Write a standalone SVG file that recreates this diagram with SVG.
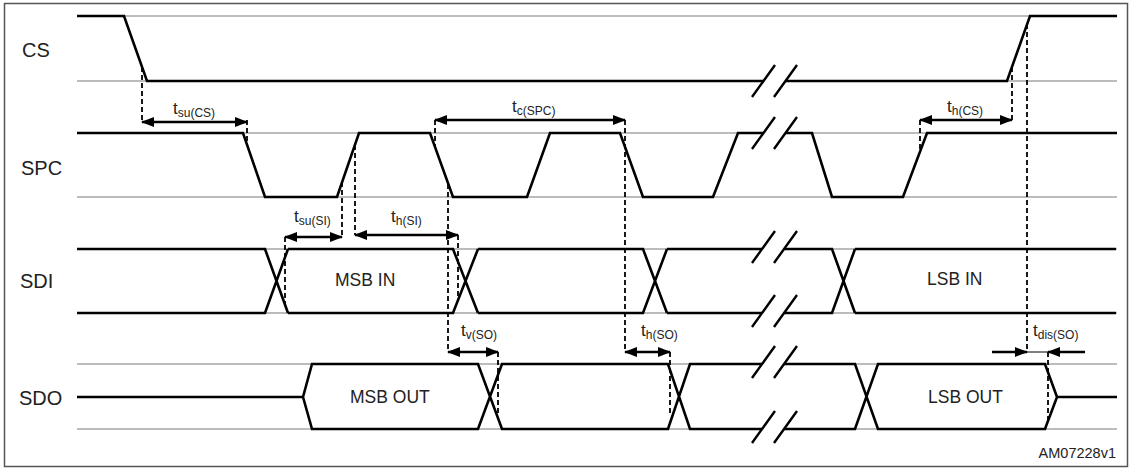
<svg xmlns="http://www.w3.org/2000/svg" width="1130" height="470" viewBox="0 0 1130 470">
<style>
.rail{stroke:#a6a6a6;stroke-width:1.3;fill:none}
.sig{stroke:#000;stroke-width:2.6;fill:none;stroke-linejoin:miter}
.slash{stroke:#000;stroke-width:2.4;fill:none}
.dash{stroke:#000;stroke-width:1.8;stroke-dasharray:5 3;fill:none}
.arr{stroke:#000;stroke-width:2.4;fill:none}
.lbl{font-family:"Liberation Sans",Arial,sans-serif;font-size:20px;fill:#222}
.dat{font-family:"Liberation Sans",Arial,sans-serif;font-size:17.5px;fill:#222}
.t{font-family:"Liberation Sans",Arial,sans-serif;font-size:17px;fill:#222}
.sub{font-size:12px}
</style>
<defs>
<marker id="ah" markerUnits="userSpaceOnUse" markerWidth="13" markerHeight="10" refX="12" refY="5" orient="auto-start-reverse"><path d="M0,0 L13,5 L0,10 z" fill="#000"/></marker>
</defs>
<rect x="4.5" y="3.5" width="1123" height="463" fill="#fff" stroke="#555" stroke-width="1.5"/>

<g id="CS">
<text class="lbl" x="22" y="57">CS</text>
<path class="rail" d="M77,16 H1117 M77,81 H763 M785,81 H1117"/>
<path class="sig" d="M77,16 H124 L147,81 H763 M785,81 H1007 L1030,16 H1117"/>
<path class="slash" d="M752,97 L775,65 M774,97 L797,65"/>
</g>

<g id="SPC">
<text class="lbl" x="21" y="175">SPC</text>
<path class="rail" d="M77,133 H763 M785,133 H1117 M77,197 H1117"/>
<path class="sig" d="M77,133 H243 L265,197 H337 L359,133 H430 L453,197 H527 L550,133 H620 L643,197 H713 L738,133 H763 M785,133 H812 L832,197 H903 L927,133 H1117"/>
<path class="slash" d="M752,149 L775,117 M774,149 L797,117"/>
</g>

<g id="SDI">
<text class="lbl" x="20" y="288">SDI</text>
<path class="rail" d="M77,249 H762 M784,249 H1117 M77,313 H762 M784,313 H1117"/>
<path class="sig" d="M77,249 H265 L288,313 M77,313 H265 L288,249 M288,249 H453 L478,313 M288,313 H453 L478,249 M478,249 H643 L667,313 M478,313 H643 L667,249 M667,249 H762 M784,249 H832 L855,313 M667,313 H762 M784,313 H832 L855,249 M855,249 H1116 M855,313 H1116"/>
<path class="slash" d="M752,263 L775,231 M774,263 L797,231 M752,327 L775,295 M774,327 L797,295"/>
<text class="dat" x="335" y="286">MSB IN</text>
<text class="dat" x="927" y="285">LSB IN</text>
</g>

<g id="SDO">
<text class="lbl" x="19" y="405">SDO</text>
<path class="rail" d="M77,364 H762 M784,364 H1117 M77,429 H762 M784,429 H1117"/>
<path class="sig" d="M77,397 H303 L312,364 H478 L502,429 H668 L690,364 H762 M784,364 H855 L878,429 H1045 L1057,397 H1117 M303,397 L312,429 H478 L502,364 H668 L690,429 H762 M784,429 H855 L878,364 H1045 L1057,397"/>
<path class="slash" d="M752,378 L775,346 M774,378 L797,346 M752,443 L775,411 M774,443 L797,411"/>
<text class="dat" x="350" y="403">MSB OUT</text>
<text class="dat" x="928" y="403">LSB OUT</text>
</g>

<g id="connectors">
<path class="dash" d="M142,67 V122 M247,120 V145 M342,182 V237 M355,145 V235 M285,237 V307 M458,235 V297 M435,120 V147 M448,184 V352 M625,120 V352 M498,352 V413 M670,352 V413 M920,120 V150 M1012,67 V120 M1027,24 V352 M1048,352 V420"/>
<line class="arr" x1="142" y1="122" x2="247" y2="122" marker-start="url(#ah)" marker-end="url(#ah)"/>
<line class="arr" x1="435" y1="120" x2="625" y2="120" marker-start="url(#ah)" marker-end="url(#ah)"/>
<line class="arr" x1="920" y1="120" x2="1012" y2="120" marker-start="url(#ah)" marker-end="url(#ah)"/>
<line class="arr" x1="285" y1="237" x2="342" y2="237" marker-start="url(#ah)" marker-end="url(#ah)"/>
<line class="arr" x1="355" y1="235" x2="458" y2="235" marker-start="url(#ah)" marker-end="url(#ah)"/>
<line class="arr" x1="448" y1="352" x2="498" y2="352" marker-start="url(#ah)" marker-end="url(#ah)"/>
<line class="arr" x1="625" y1="352" x2="670" y2="352" marker-start="url(#ah)" marker-end="url(#ah)"/>
<line class="arr" x1="992" y1="352" x2="1027" y2="352" marker-end="url(#ah)"/>
<line stroke="#000" stroke-width="1" x1="1027" y1="352" x2="1048" y2="352"/>
<line class="arr" x1="1085" y1="352" x2="1048" y2="352" marker-end="url(#ah)"/>
<text class="t" x="173" y="114">t<tspan class="sub" dy="3">su(CS)</tspan></text>
<text class="t" x="512" y="112">t<tspan class="sub" dy="3">c(SPC)</tspan></text>
<text class="t" x="947" y="112">t<tspan class="sub" dy="3">h(CS)</tspan></text>
<text class="t" x="294" y="222">t<tspan class="sub" dy="3">su(SI)</tspan></text>
<text class="t" x="391" y="222">t<tspan class="sub" dy="3">h(SI)</tspan></text>
<text class="t" x="461" y="336">t<tspan class="sub" dy="3">v(SO)</tspan></text>
<text class="t" x="641" y="336">t<tspan class="sub" dy="3">h(SO)</tspan></text>
<text class="t" x="1033" y="336">t<tspan class="sub" dy="3">dis(SO)</tspan></text>
</g>

<text x="1116" y="458" text-anchor="end" font-family="Liberation Sans, Arial, sans-serif" font-size="14.5" fill="#222">AM07228v1</text>
</svg>
